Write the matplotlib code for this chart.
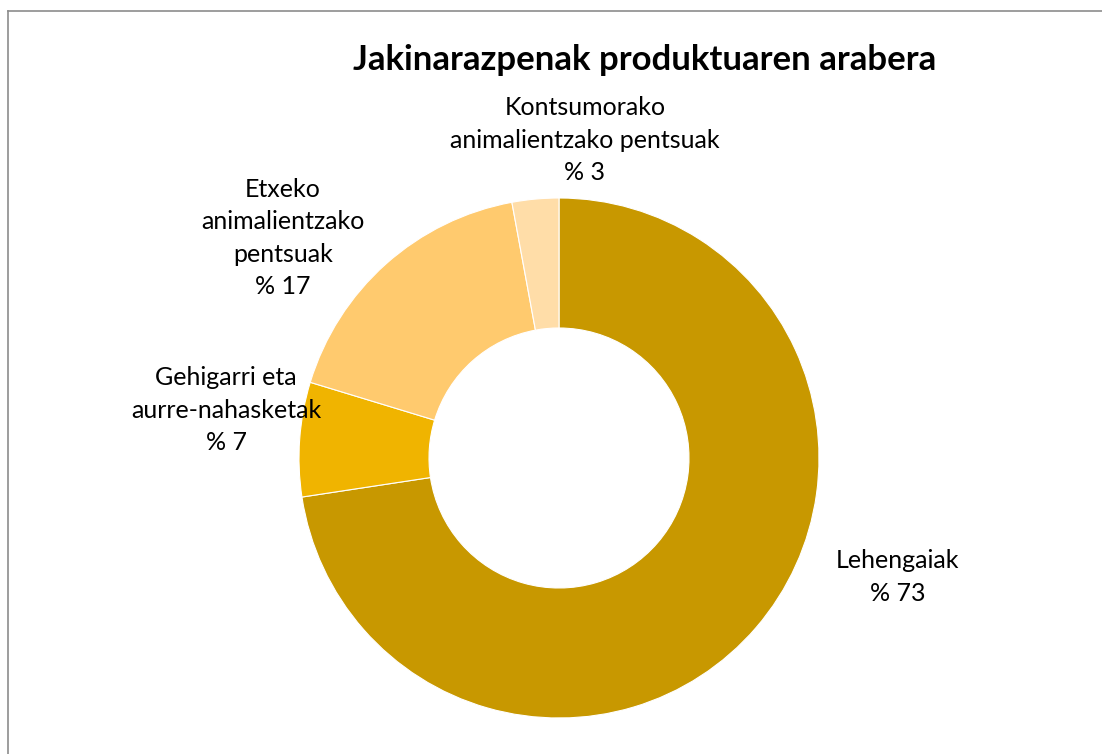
import matplotlib.pyplot as plt
from matplotlib.lines import Line2D

# data
categories = ['Lehengaiak', 'Gehigarri eta\naurre-nahasketak', 'Etxeko\nanimalientzako\npentsuak',
              'Kontsumorako\nanimalientzako pentsuak']
values = [72.6, 7.1, 17.4, 2.9]
pct_labels = ['% 73', '% 7', '% 17', '% 3']
colors = ['#C89800', '#F0B400', '#FFCA6E', '#FFDDA8']

W, H = 1102, 754
cx, cy, R = 559, 458, 260  # pie centre and radius in pixels


def to_data(px, py):
    return (px - cx) / R, (cy - py) / R


plt.rcParams['font.family'] = ['Lato', 'DejaVu Sans']
fig = plt.figure(figsize=(W / 100, H / 100), dpi=100)
ax = fig.add_axes([0, 0, 1, 1])

ax.pie(values, colors=colors, startangle=90, counterclock=False, radius=1,
       wedgeprops=dict(width=0.5, edgecolor='white', linewidth=0.8))
ax.set_xlim(-cx / R, (W - cx) / R)
ax.set_ylim(-(H - cy) / R, cy / R)
ax.axis('off')

# label positions (pixels, text block centres)
label_pos = [(898, 577), (226, 410), (283, 238), (585, 140)]
for cat, pct, (px, py) in zip(categories, pct_labels, label_pos):
    x, y = to_data(px, py)
    ax.text(x, y, cat + '\n' + pct, ha='center', va='center', fontsize=18,
            linespacing=1.5, color='#000000')

fig.text(645 / W, 1 - 60 / H, 'Jakinarazpenak produktuaren arabera', ha='center', va='center',
         fontsize=25, fontweight='bold')

# chart area border (only top and left visible)
fig.add_artist(Line2D([8 / W, 1], [1 - 11 / H, 1 - 11 / H], color='#8C8C8C', linewidth=1.2))
fig.add_artist(Line2D([8 / W, 8 / W], [1 - 11 / H, 0], color='#8C8C8C', linewidth=1.2))

fig.savefig('out.png', dpi=100)
